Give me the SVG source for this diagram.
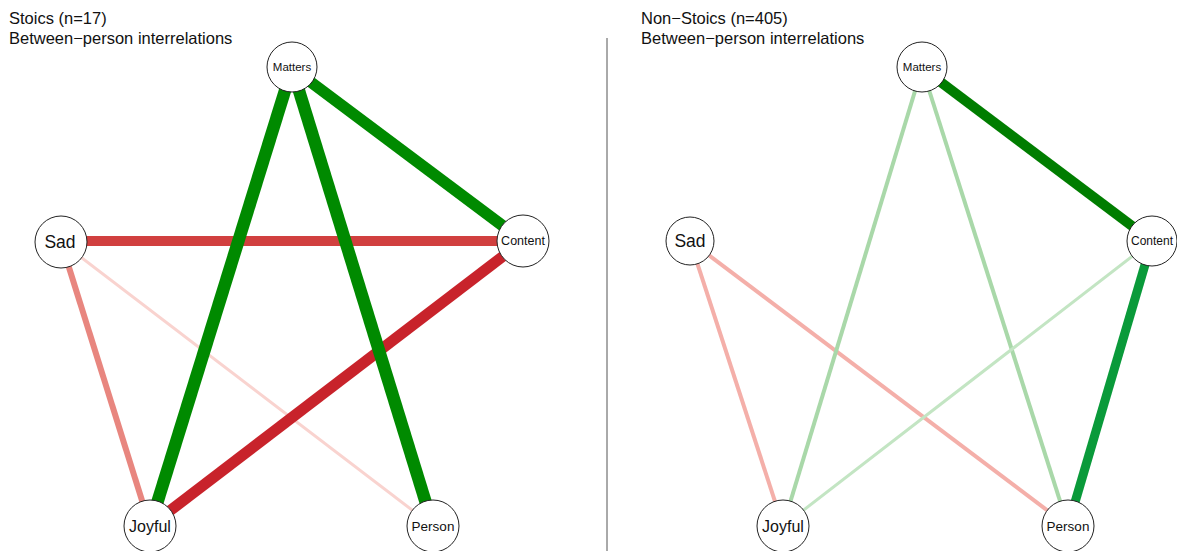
<svg xmlns="http://www.w3.org/2000/svg" width="1177" height="551" viewBox="0 0 1177 551">
<style>
.t{font-family:"Liberation Sans",Arial,sans-serif;font-size:16.5px;fill:#111}
.n circle{fill:#fff;stroke:#222;stroke-width:1}
.n text{font-family:"Liberation Sans",Arial,sans-serif;fill:#111;text-anchor:middle;dominant-baseline:central}
#edges line{stroke-linecap:butt}
</style>
<rect width="1177" height="551" fill="#fff"/>
<text class="t" x="9" y="24">Stoics (n=17)</text>
<text class="t" x="9" y="44">Between−person interrelations</text>
<text class="t" x="641" y="24">Non−Stoics (n=405)</text>
<text class="t" x="641" y="44">Between−person interrelations</text>
<line x1="607" y1="38" x2="607" y2="551" stroke="#555" stroke-width="1"/>
<g id="edges">
<line x1="61" y1="242" x2="150" y2="526" stroke="#e8867f" stroke-width="6"/>
<line x1="61" y1="242" x2="433" y2="526" stroke="#f9d3cf" stroke-width="3"/>
<line x1="61" y1="241" x2="523" y2="241" stroke="#d1403f" stroke-width="10"/>
<line x1="523" y1="241" x2="150" y2="526" stroke="#c8232b" stroke-width="11"/>
<line x1="292" y1="68" x2="150" y2="526" stroke="#008a00" stroke-width="12.5"/>
<line x1="292" y1="68" x2="433" y2="526" stroke="#008a00" stroke-width="12.5"/>
<line x1="292" y1="68" x2="523" y2="241" stroke="#008a00" stroke-width="11.5"/>
<line x1="690" y1="241" x2="783" y2="526" stroke="#f4afa9" stroke-width="4"/>
<line x1="690" y1="241" x2="1068" y2="526" stroke="#f4afa9" stroke-width="4"/>
<line x1="922" y1="68" x2="783" y2="526" stroke="#a9d8a9" stroke-width="4"/>
<line x1="922" y1="68" x2="1068" y2="526" stroke="#a9d8a9" stroke-width="4"/>
<line x1="1152" y1="241" x2="783" y2="526" stroke="#c3e5c3" stroke-width="3"/>
<line x1="922" y1="68" x2="1152" y2="241" stroke="#007d00" stroke-width="10"/>
<line x1="1152" y1="241" x2="1068" y2="526" stroke="#0a9a3a" stroke-width="9"/>
</g>
<g id="stoics-matters" class="n"><circle cx="292" cy="67" r="25"/><text x="292" y="67" font-size="11.5">Matters</text></g>
<g id="stoics-sad" class="n"><circle cx="61" cy="242" r="26"/><text x="60" y="242" font-size="17.5">Sad</text></g>
<g id="stoics-content" class="n"><circle cx="523" cy="241" r="26"/><text x="523" y="241" font-size="12.5">Content</text></g>
<g id="stoics-joyful" class="n"><circle cx="150" cy="526" r="26"/><text x="150" y="526" font-size="16">Joyful</text></g>
<g id="stoics-person" class="n"><circle cx="433" cy="526" r="26"/><text x="433" y="526" font-size="13.5">Person</text></g>
<g id="non-matters" class="n"><circle cx="922" cy="67" r="25"/><text x="922" y="67" font-size="11.5">Matters</text></g>
<g id="non-sad" class="n"><circle cx="690" cy="241" r="24"/><text x="690" y="241" font-size="17.5">Sad</text></g>
<g id="non-content" class="n"><circle cx="1152" cy="241" r="25"/><text x="1152" y="241" font-size="12">Content</text></g>
<g id="non-joyful" class="n"><circle cx="783" cy="526" r="26"/><text x="783" y="526" font-size="16">Joyful</text></g>
<g id="non-person" class="n"><circle cx="1068" cy="526" r="26"/><text x="1068" y="526" font-size="13.5">Person</text></g>
</svg>
